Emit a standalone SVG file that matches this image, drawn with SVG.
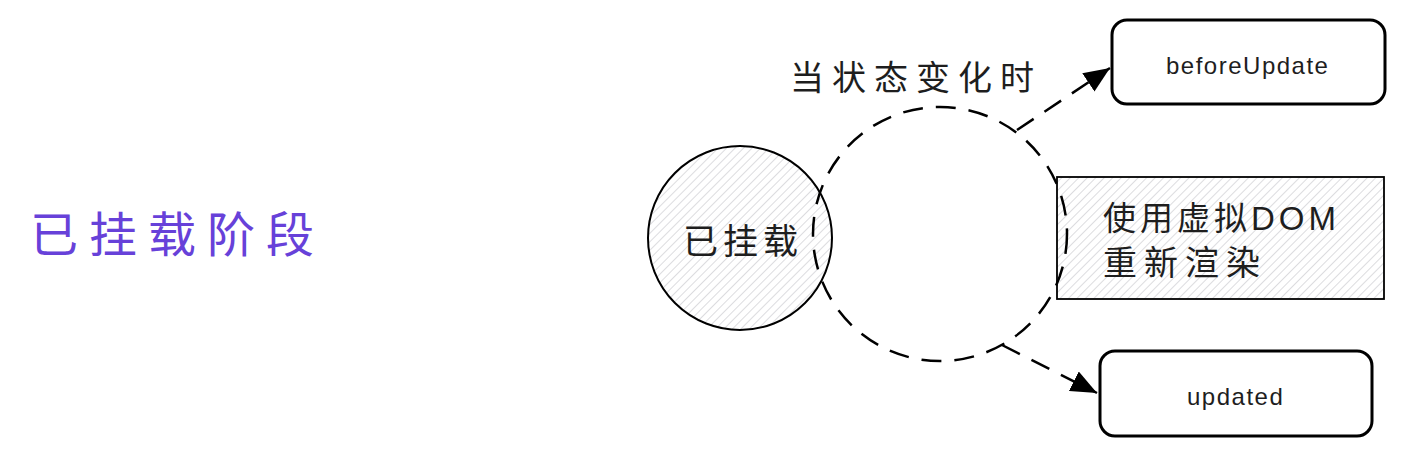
<svg xmlns="http://www.w3.org/2000/svg" width="1404" height="457" viewBox="0 0 1404 457">
<style>
.hand{font-family:"Liberation Sans","Noto Sans CJK SC",sans-serif;fill:#1e1e1e}
.box{fill:#fff;stroke:#000;stroke-width:3}
.dash{fill:none;stroke:#000;stroke-width:2.5;stroke-dasharray:20 13}
</style>
<defs>
<pattern id="hatch" patternUnits="userSpaceOnUse" width="6" height="6" patternTransform="rotate(45)">
<line x1="0" y1="0" x2="0" y2="6" stroke="#c4c4ca" stroke-width="1.2"/>
</pattern>
<marker id="arrow" viewBox="0 0 26 22" refX="26" refY="11" markerWidth="26" markerHeight="22" markerUnits="userSpaceOnUse" orient="auto">
<path d="M0,0 L26,11 L0,22 z" fill="#000"/>
</marker>
</defs>
<text x="30" y="252" font-family="'Liberation Sans','Noto Sans CJK SC',sans-serif" font-size="48" fill="#6741d9" letter-spacing="11">已挂载阶段</text>
<g id="node-mounted">
<circle cx="740" cy="238" r="92" fill="url(#hatch)" stroke="#000" stroke-width="2"/>
<text class="hand" x="683" y="254" font-size="35" letter-spacing="5">已挂载</text>
</g>
<g id="node-render">
<rect x="1057" y="177" width="327" height="122" fill="url(#hatch)" stroke="#000" stroke-width="1.8"/>
<text class="hand" x="1103" y="230" font-size="33" letter-spacing="4">使用虚拟DOM</text>
<text class="hand" x="1103" y="275" font-size="34" letter-spacing="7">重新渲染</text>
</g>
<g id="node-beforeUpdate">
<rect class="box" x="1112" y="20" width="273" height="84" rx="15"/>
<text class="hand" x="1166" y="74" font-size="24" letter-spacing="1.5">beforeUpdate</text>
</g>
<g id="node-updated">
<rect class="box" x="1100" y="351" width="272" height="85" rx="15"/>
<text class="hand" x="1187" y="405" font-size="24" letter-spacing="1.5">updated</text>
</g>
<g id="connectors">
<circle class="dash" cx="940" cy="234" r="127"/>
<line class="dash" x1="1017" y1="130" x2="1110" y2="68" marker-end="url(#arrow)"/>
<line class="dash" x1="1002" y1="345" x2="1097" y2="393" marker-end="url(#arrow)"/>
<text class="hand" x="790" y="90" font-size="34" letter-spacing="8">当状态变化时</text>
</g>
</svg>
